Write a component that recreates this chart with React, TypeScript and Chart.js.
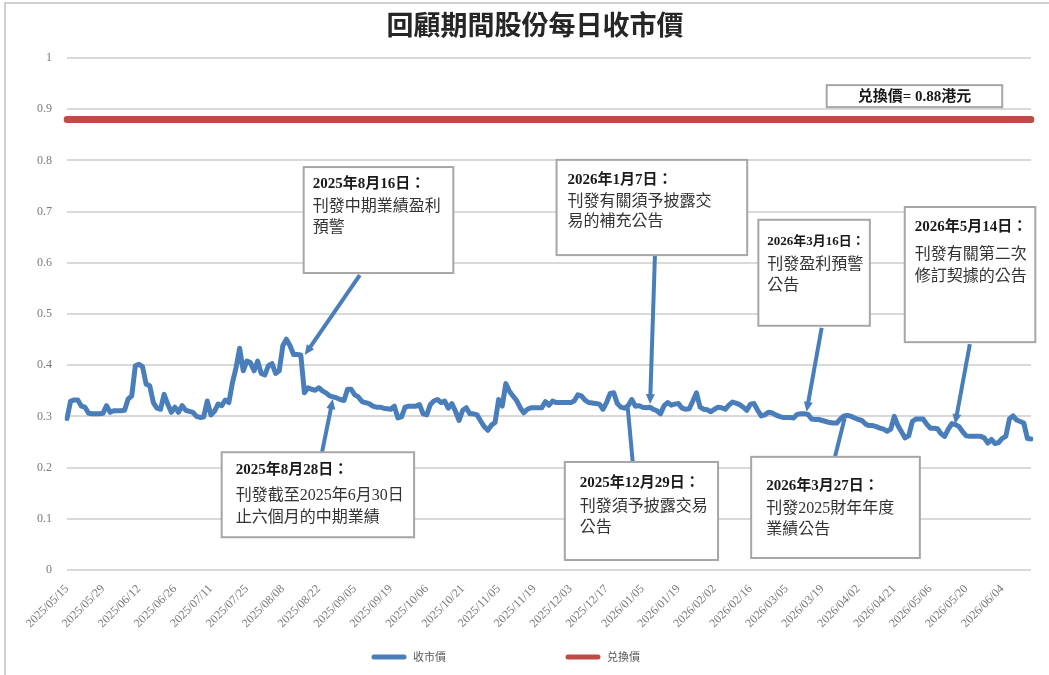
import React, { useEffect, useRef } from 'react';
import { Chart, registerables } from 'chart.js';

Chart.register(...registerables);

// ---- Data ----
const firstTradingDay = '2025-05-15';
const hkHolidays = [
  '2025-07-01', '2025-10-01', '2025-10-07', '2025-10-29', '2025-12-25', '2025-12-26',
  '2026-01-01', '2026-02-17', '2026-02-18', '2026-02-19', '2026-04-03', '2026-04-06',
  '2026-04-07', '2026-05-01', '2026-05-25',
];

const closePrices = [
  0.296, 0.330, 0.332, 0.332, 0.320, 0.318, 0.306, 0.305, 0.305, 0.305,
  0.306, 0.321, 0.308, 0.311, 0.311, 0.311, 0.312, 0.334, 0.340, 0.399,
  0.402, 0.397, 0.363, 0.360, 0.327, 0.316, 0.314, 0.343, 0.324, 0.308,
  0.318, 0.308, 0.321, 0.312, 0.310, 0.308, 0.300, 0.298, 0.299, 0.330,
  0.303, 0.310, 0.324, 0.321, 0.332, 0.327, 0.366, 0.395, 0.433, 0.389,
  0.408, 0.405, 0.389, 0.408, 0.384, 0.381, 0.399, 0.403, 0.384, 0.389,
  0.438, 0.451, 0.438, 0.421, 0.421, 0.420, 0.346, 0.356, 0.353, 0.351,
  0.356, 0.350, 0.346, 0.340, 0.338, 0.336, 0.333, 0.331, 0.353, 0.353,
  0.342, 0.338, 0.329, 0.327, 0.325, 0.320, 0.318, 0.318, 0.316, 0.315,
  0.314, 0.320, 0.297, 0.299, 0.318, 0.320, 0.320, 0.320, 0.323, 0.305,
  0.303, 0.323, 0.330, 0.333, 0.327, 0.330, 0.316, 0.325, 0.310, 0.292,
  0.312, 0.317, 0.305, 0.305, 0.303, 0.291, 0.280, 0.273, 0.283, 0.288,
  0.333, 0.320, 0.364, 0.349, 0.340, 0.331, 0.317, 0.307, 0.314, 0.317,
  0.317, 0.317, 0.317, 0.329, 0.322, 0.330, 0.327, 0.327, 0.327, 0.327,
  0.327, 0.330, 0.342, 0.340, 0.332, 0.327, 0.326, 0.325, 0.324, 0.314,
  0.327, 0.345, 0.346, 0.325, 0.318, 0.316, 0.321, 0.333, 0.320, 0.321,
  0.318, 0.317, 0.318, 0.314, 0.311, 0.305, 0.321, 0.327, 0.322, 0.324,
  0.325, 0.316, 0.314, 0.315, 0.330, 0.346, 0.318, 0.314, 0.313, 0.309,
  0.314, 0.318, 0.317, 0.314, 0.322, 0.328, 0.326, 0.323, 0.318, 0.312,
  0.324, 0.325, 0.312, 0.301, 0.303, 0.308, 0.307, 0.303, 0.300, 0.298,
  0.298, 0.298, 0.297, 0.304, 0.305, 0.305, 0.304, 0.295, 0.294, 0.294,
  0.292, 0.290, 0.288, 0.287, 0.287, 0.295, 0.301, 0.302, 0.300, 0.297,
  0.294, 0.292, 0.285, 0.282, 0.282, 0.280, 0.277, 0.275, 0.271, 0.275,
  0.300, 0.282, 0.270, 0.258, 0.262, 0.290, 0.295, 0.295, 0.295, 0.285,
  0.277, 0.277, 0.276, 0.266, 0.261, 0.275, 0.286, 0.284, 0.280, 0.270,
  0.262, 0.261, 0.261, 0.261, 0.261, 0.258, 0.248, 0.255, 0.247, 0.249,
  0.257, 0.261, 0.295, 0.301, 0.293, 0.290, 0.287, 0.257, 0.256,
];

const conversionPrice = 0.88;
const labelEvery = 10;
const yTicks = [0, 0.1, 0.2, 0.3, 0.4, 0.5, 0.6, 0.7, 0.8, 0.9, 1];

const chartTitle = '回顧期間股份每日收市價';
const closeLabel = '收市價';
const convLabel = '兑換價';
const convNote = '兑換價= 0.88港元';

// annotation texts and targets (in scale units: category index, price)
const noteDates = ['2025年8月16日：', '2025年8月28日：', '2026年1月7日：', '2025年12月29日：', '2026年3月16日：', '2026年3月27日：', '2026年5月14日：'];
const noteTexts = [
  ['刊發中期業績盈利', '預警'],
  ['刊發截至2025年6月30日', '止六個月的中期業績'],
  ['刊發有關須予披露交', '易的補充公告'],
  ['刊發須予披露交易', '公告'],
  ['刊發盈利預警', '公告'],
  ['刊發2025財年年度', '業績公告'],
  ['刊發有關第二次', '修訂契據的公告'],
];
const noteTargets = [
  [66.1, 0.420], [73.9, 0.334], [162.1, 0.324], [155.9, 0.316], [205.6, 0.309], [216.2, 0.297], [246.9, 0.285],
];

// ---- Layout (scale units for boxes, px offsets for text) ----
const noteBoxes = [
  [65.8, 0.787, 107.4, 0.580],
  [43.0, 0.230, 96.5, 0.064],
  [136.1, 0.801, 189.1, 0.615],
  [138.4, 0.211, 181.0, 0.0195],
  [192.2, 0.684, 223.2, 0.477],
  [190.2, 0.221, 237.1, 0.0234],
  [232.9, 0.709, 269.2, 0.445],
];
const noteArrowStarts = [
  [81.4, 0.576], [70.9, 0.230], [163.5, 0.625], [157.3, 0.209], [209.8, 0.473], [212.8, 0.201], [251.0, 0.441],
];
const noteArrowHead = [true, true, true, false, true, false, true];
const noteTextDx = [9, 14, 11, 15, 9, 15, 10];
const noteLineDy = [
  [17, 40, 61], [18, 44, 66], [20, 42, 62], [21, 45, 66], [22, 45, 66], [29, 52, 73], [20, 48, 70],
];
const noteDateSize = [15, 15, 15, 15, 13, 15, 15];
const convBox = [211.2, 0.947, 260.0, 0.904];

const BLUE = '#4A7EBB';
const RED = '#BE4B48';
const GRID = '#D9D9D9';
const AXIS_TEXT = '#7A7A7A';
const LATIN_CJK = "'Liberation Serif', 'Noto Sans CJK TC', serif";

function tradingDays(start: string, count: number, holidays: string[]): string[] {
  const out: string[] = [];
  const d = new Date(start + 'T00:00:00Z');
  while (out.length < count) {
    const dow = d.getUTCDay();
    const iso = d.toISOString().slice(0, 10);
    if (dow !== 0 && dow !== 6 && !holidays.includes(iso)) out.push(iso.replace(/-/g, '/'));
    d.setUTCDate(d.getUTCDate() + 1);
  }
  return out;
}

const dates = tradingDays(firstTradingDay, closePrices.length, hkHolidays);

function drawArrow(ctx: CanvasRenderingContext2D, x0: number, y0: number, x1: number, y1: number, head: boolean) {
  const ang = Math.atan2(y1 - y0, x1 - x0);
  const headLen = 10;
  const headW = 4.5;
  const bx = x1 - headLen * Math.cos(ang);
  const by = y1 - headLen * Math.sin(ang);
  ctx.save();
  ctx.strokeStyle = BLUE;
  ctx.fillStyle = BLUE;
  ctx.lineWidth = 4;
  ctx.lineCap = 'butt';
  ctx.beginPath();
  ctx.moveTo(x0, y0);
  if (head) ctx.lineTo(bx + 2 * Math.cos(ang), by + 2 * Math.sin(ang));
  else ctx.lineTo(x1, y1);
  ctx.stroke();
  if (head) {
    ctx.beginPath();
    ctx.moveTo(x1, y1);
    ctx.lineTo(bx + headW * Math.sin(ang), by - headW * Math.cos(ang));
    ctx.lineTo(bx - headW * Math.sin(ang), by + headW * Math.cos(ang));
    ctx.closePath();
    ctx.fill();
  }
  ctx.restore();
}

const overlayPlugin = {
  id: 'overlay',
  beforeDraw(chart: any) {
    const ctx: CanvasRenderingContext2D = chart.ctx;
    ctx.save();
    ctx.fillStyle = '#ffffff';
    ctx.fillRect(0, 0, chart.width, chart.height);
    ctx.strokeStyle = '#D0D0D0';
    ctx.lineWidth = 2;
    ctx.strokeRect(5, 3, chart.width + 20, chart.height + 20);
    ctx.fillStyle = '#262626';
    ctx.font = "bold 27px 'Noto Sans CJK TC', sans-serif";
    ctx.textAlign = 'center';
    ctx.textBaseline = 'middle';
    ctx.fillText(chartTitle, 535, 25);
    ctx.restore();
  },
  afterDatasetsDraw(chart: any) {
    const ctx: CanvasRenderingContext2D = chart.ctx;
    const xs = chart.scales.x;
    const ys = chart.scales.y;
    const px = (v: number) => xs.getPixelForValue(v);
    const py = (v: number) => ys.getPixelForValue(v);

    // arrows
    noteTargets.forEach((t, i) => {
      const s = noteArrowStarts[i];
      drawArrow(ctx, px(s[0]), py(s[1]), px(t[0]), py(t[1]), noteArrowHead[i]);
    });

    // boxes
    ctx.save();
    noteBoxes.forEach((b, i) => {
      const l = px(b[0]), t = py(b[1]), r = px(b[2]), btm = py(b[3]);
      ctx.fillStyle = '#ffffff';
      ctx.fillRect(l, t, r - l, btm - t);
      ctx.strokeStyle = '#A6A6A6';
      ctx.lineWidth = 2;
      ctx.strokeRect(l, t, r - l, btm - t);
      ctx.fillStyle = '#1a1a1a';
      ctx.textAlign = 'left';
      ctx.textBaseline = 'middle';
      ctx.font = `bold ${noteDateSize[i]}px ${LATIN_CJK}`;
      ctx.fillText(noteDates[i], l + noteTextDx[i], t + noteLineDy[i][0]);
      ctx.fillStyle = '#333333';
      ctx.font = `16px ${LATIN_CJK}`;
      noteTexts[i].forEach((line, k) => {
        ctx.fillText(line, l + noteTextDx[i], t + noteLineDy[i][k + 1]);
      });
    });

    // conversion price note
    {
      const l = px(convBox[0]), t = py(convBox[1]), r = px(convBox[2]), btm = py(convBox[3]);
      ctx.fillStyle = '#ffffff';
      ctx.fillRect(l, t, r - l, btm - t);
      ctx.strokeStyle = '#A6A6A6';
      ctx.lineWidth = 2;
      ctx.strokeRect(l, t, r - l, btm - t);
      ctx.fillStyle = '#1a1a1a';
      ctx.font = `bold 15px ${LATIN_CJK}`;
      ctx.textAlign = 'center';
      ctx.textBaseline = 'middle';
      ctx.fillText(convNote, (l + r) / 2, (t + btm) / 2 + 1);
    }

    // legend
    const legendItems: [string, string, number][] = [
      [closeLabel, BLUE, 372],
      [convLabel, RED, 566],
    ];
    legendItems.forEach(([label, color, x]) => {
      ctx.strokeStyle = color;
      ctx.lineWidth = 5;
      ctx.lineCap = 'round';
      ctx.beginPath();
      ctx.moveTo(x + 2, 657);
      ctx.lineTo(x + 32, 657);
      ctx.stroke();
      ctx.fillStyle = '#595959';
      ctx.font = "11px 'Noto Sans CJK TC', sans-serif";
      ctx.textAlign = 'left';
      ctx.textBaseline = 'middle';
      ctx.fillText(label, x + 41, 657);
    });
    ctx.restore();
  },
};

export default function App() {
  const canvasRef = useRef<HTMLCanvasElement | null>(null);

  useEffect(() => {
    const canvas = canvasRef.current;
    if (!canvas) return;
    const chart = new Chart(canvas, {
      type: 'line',
      data: {
        labels: dates,
        datasets: [
          {
            label: closeLabel,
            data: closePrices,
            borderColor: BLUE,
            backgroundColor: BLUE,
            borderWidth: 5,
            pointRadius: 0,
            tension: 0,
            borderJoinStyle: 'round',
            borderCapStyle: 'round',
          },
          {
            label: convLabel,
            data: [
              { x: dates[0], y: conversionPrice },
              { x: dates[dates.length - 1], y: conversionPrice },
            ] as any,
            borderColor: RED,
            backgroundColor: RED,
            borderWidth: 7,
            pointRadius: 0,
            borderCapStyle: 'round',
          },
        ],
      },
      options: {
        responsive: false,
        animation: false,
        layout: { padding: { left: 0, right: 18, top: 58, bottom: 0 } },
        plugins: {
          legend: { display: false },
          title: { display: false },
          tooltip: { enabled: false },
        },
        scales: {
          x: {
            type: 'category',
            offset: false,
            grid: { display: false },
            border: { display: false },
            ticks: {
              autoSkip: false,
              minRotation: 45,
              maxRotation: 45,
              padding: 4,
              color: AXIS_TEXT,
              font: { family: "'Liberation Serif', serif", size: 12 },
              callback: function (this: any, value: any, index: number) {
                return index % labelEvery === 0 ? dates[index] : null;
              },
            },
            afterFit: (s: any) => { s.height = 105; },
          },
          y: {
            min: 0,
            max: 1,
            afterBuildTicks: (s: any) => { s.ticks = yTicks.map((v) => ({ value: v })); },
            grid: { color: GRID, lineWidth: 2, drawTicks: false },
            border: { display: false },
            ticks: {
              padding: 15,
              color: AXIS_TEXT,
              font: { family: "'Liberation Serif', serif", size: 12 },
              callback: (v: any) => String(Math.round(Number(v) * 10) / 10),
            },
            afterFit: (s: any) => { s.width = 67; },
          },
        },
      },
      plugins: [overlayPlugin],
    });
    return () => chart.destroy();
  }, []);

  return (
    <div style={{ position: 'fixed', left: 0, top: 0, width: 1049, height: 675, background: '#fff' }}>
      <canvas ref={canvasRef} width={1049} height={675} style={{ display: 'block' }} />
    </div>
  );
}
